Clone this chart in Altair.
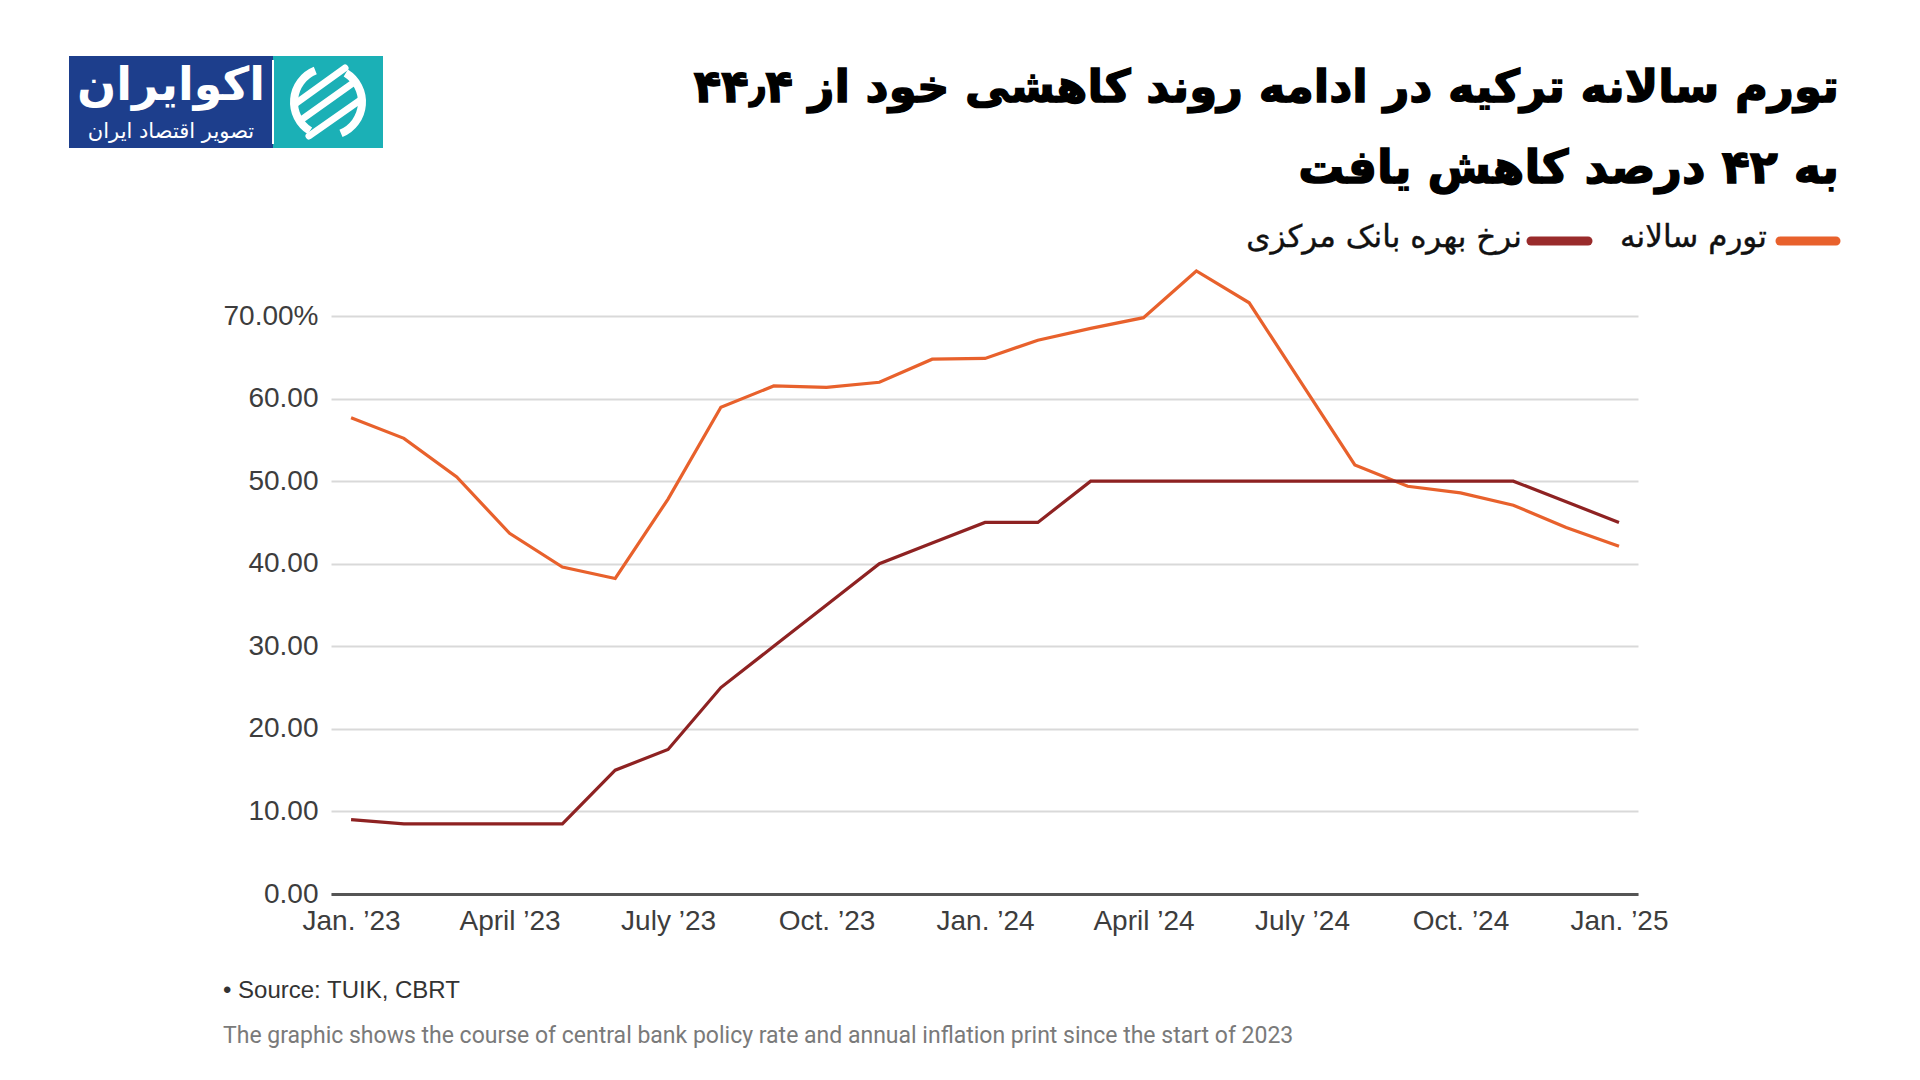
import altair as alt
import pandas as pd
import json

# ---------------- data ----------------
month_idx = list(range(25))  # Jan 2023 .. Jan 2025
inflation = [57.68, 55.18, 50.51, 43.68, 39.59, 38.21, 47.83, 58.94, 61.53, 61.36, 61.98, 64.77,
             64.86, 67.07, 68.50, 69.80, 75.45, 71.60, 61.78, 51.97, 49.38, 48.58, 47.09, 44.38, 42.12]
policy_rate = [9.0, 8.5, 8.5, 8.5, 8.5, 15.0, 17.5, 25.0, 30.0, 35.0, 40.0, 42.5,
               45.0, 45.0, 50.0, 50.0, 50.0, 50.0, 50.0, 50.0, 50.0, 50.0, 50.0, 47.5, 45.0]
series_names = ["تورم سالانه", "نرخ بهره بانک مرکزی"]
x_tick_values = [0, 3, 6, 9, 12, 15, 18, 21, 24]
x_tick_labels = ["Jan. \u201923", "April \u201923", "July \u201923", "Oct. \u201923",
                 "Jan. \u201924", "April \u201924", "July \u201924", "Oct. \u201924", "Jan. \u201925"]
y_tick_values = [0, 10, 20, 30, 40, 50, 60, 70]
title_lines = ["تورم سالانه ترکیه در ادامه روند کاهشی خود از ۴۴٫۴", "به ۴۲ درصد کاهش یافت"]
source_text = "\u2022 Source: TUIK, CBRT"
note_text = "The graphic shows the course of central bank policy rate and annual inflation print since the start of 2023"
logo_main = "اکوایران"
logo_sub = "تصویر اقتصاد ایران"

ORANGE = "#E8612C"
RED = "#8E2222"
RED_LEG = "#992B2B"

df = pd.DataFrame({
    "m": month_idx * 2,
    "v": inflation + policy_rate,
    "s": [series_names[0]] * 25 + [series_names[1]] * 25,
    "o": [0] * 25 + [1] * 25,
})

W, H = 1307, 578

x_label_expr = json.dumps(x_tick_labels) + "[round(datum.value/3)]"

lines = alt.Chart(df).mark_line(strokeWidth=3.2, strokeJoin="miter").encode(
    x=alt.X("m:Q",
            scale=alt.Scale(domain=[-0.38, 24.36], nice=False, zero=False),
            axis=alt.Axis(values=x_tick_values, labelExpr=x_label_expr, title=None, grid=False,
                          ticks=False, domain=True, domainColor="#555555", domainWidth=3,
                          labelFontSize=28, labelColor="#3d3d3d", labelFont="Liberation Sans",
                          labelPadding=13, labelAngle=0)),
    y=alt.Y("v:Q",
            scale=alt.Scale(domain=[0, 70], nice=False),
            axis=alt.Axis(values=y_tick_values, title=None, ticks=False, domain=False,
                          labelExpr="datum.value == 70 ? '70.00%' : format(datum.value, '.2f')",
                          labelFontSize=28, labelColor="#3d3d3d", labelFont="Liberation Sans",
                          labelPadding=13, grid=True, gridColor="#d9d9d9", gridWidth=2)),
    color=alt.Color("s:N", scale=alt.Scale(domain=series_names, range=[ORANGE, RED]), legend=None),
    order=alt.Order("o:Q"),
)

one = pd.DataFrame({"k": [0]})


def txt(s, x, y, size, color, font, weight="normal", align="left", baseline="middle", stroke=0):
    kw = dict(align=align, baseline=baseline, fontSize=size, font=font, fontWeight=weight, color=color)
    if stroke > 0:
        kw.update(stroke=color, strokeWidth=stroke)
    return alt.Chart(pd.DataFrame({"t": [s]})).mark_text(**kw).encode(
        x=alt.value(x), y=alt.value(y), text="t:N")


def rect(x1, x2, y1, y2, color):
    return alt.Chart(one).mark_rect(color=color).encode(
        x=alt.value(x1), x2=alt.value(x2), y=alt.value(y1), y2=alt.value(y2))


def rule(x1, x2, y1, y2, color, width, cap="round"):
    return alt.Chart(one).mark_rule(color=color, strokeWidth=width, strokeCap=cap).encode(
        x=alt.value(x1), x2=alt.value(x2), y=alt.value(y1), y2=alt.value(y2))


def arc(cx, cy, r1, r2, t1, t2, color):
    return alt.Chart(one).mark_arc(color=color, radius=r1, radius2=r2).encode(
        x=alt.value(cx), y=alt.value(cy), theta=alt.value(t1), theta2=alt.value(t2))


layers = [lines]

# title
layers.append(txt(title_lines[0], 1508, -228, 45, "#000000", "DejaVu Sans", "bold", "right", stroke=1.4))
layers.append(txt(title_lines[1], 1508, -147, 46, "#000000", "DejaVu Sans", "bold", "right", stroke=1.4))

# legend
layers.append(rule(1449, 1505, -75, -75, ORANGE, 9))
layers.append(txt(series_names[0], 1436, -78, 31, "#111111", "DejaVu Sans", "normal", "right", stroke=0.4))
layers.append(rule(1200, 1257, -75, -75, RED_LEG, 9))
layers.append(txt(series_names[1], 1191, -78, 31, "#111111", "DejaVu Sans", "normal", "right", stroke=0.4))

# logo
layers.append(rect(-262, -58, -260, -168, "#1D3E8C"))
layers.append(rect(-58, 52, -260, -168, "#1BB0B6"))
layers.append(rule(-58, -58, -256, -172, "#ffffff", 2, "butt"))
layers.append(txt(logo_main, -160, -230, 46, "#ffffff", "DejaVu Sans", "bold", "center"))
layers.append(txt(logo_sub, -160, -184, 21, "#ffffff", "DejaVu Sans", "normal", "center"))
layers.append(arc(-3, -214, 38, 30, 3.7, 5.9, "#ffffff"))
layers.append(arc(-3, -214, 38, 30, 0.55, 2.75, "#ffffff"))
layers.append(rule(-30, 22, -196, -233, "#ffffff", 7))
layers.append(rule(-22, 28, -180, -215, "#ffffff", 7))
layers.append(rule(-36, 14, -212, -248, "#ffffff", 7))

# source and note
layers.append(txt(source_text, -108, 675, 24, "#333333", "Liberation Sans"))
layers.append(txt(note_text, -108, 720, 23, "#7a7a7a", "Roboto"))

chart = alt.layer(*layers).properties(
    width=W, height=H,
    padding={"left": 323, "top": 308, "right": 250, "bottom": 170},
    autosize=alt.AutoSizeParams(type="none"),
    background="#ffffff",
).configure_view(stroke=None)

chart.save("out.html", embed_options={"renderer": "svg", "actions": False})
